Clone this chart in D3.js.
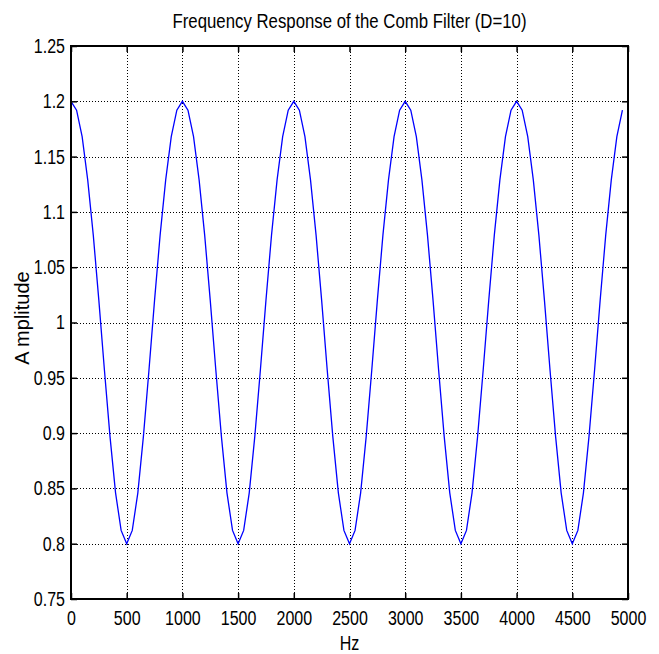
<!DOCTYPE html>
<html>
<head>
<meta charset="utf-8">
<script src="https://cdn.jsdelivr.net/npm/d3@7"></script>
<style>
  body { margin: 0; background: #fff; }
  text { font-family: "Liberation Sans", Arial, sans-serif; fill: #000; }
</style>
</head>
<body>
<div id="target"></div>
<script>
var WIDTH = 659, HEIGHT = 654;
var margin = {left: 71, top: 46, right: 31, bottom: 55};

// frequency samples (Hz), every 50 Hz
var freqs = [
  0, 50, 100, 150, 200, 250, 300, 350, 400, 450,
  500, 550, 600, 650, 700, 750, 800, 850, 900, 950,
  1000, 1050, 1100, 1150, 1200, 1250, 1300, 1350, 1400, 1450,
  1500, 1550, 1600, 1650, 1700, 1750, 1800, 1850, 1900, 1950,
  2000, 2050, 2100, 2150, 2200, 2250, 2300, 2350, 2400, 2450,
  2500, 2550, 2600, 2650, 2700, 2750, 2800, 2850, 2900, 2950,
  3000, 3050, 3100, 3150, 3200, 3250, 3300, 3350, 3400, 3450,
  3500, 3550, 3600, 3650, 3700, 3750, 3800, 3850, 3900, 3950,
  4000, 4050, 4100, 4150, 4200, 4250, 4300, 4350, 4400, 4450,
  4500, 4550, 4600, 4650, 4700, 4750, 4800, 4850, 4900, 4950
];

// amplitude
var amps = [
  1.200, 1.192, 1.168, 1.129, 1.079, 1.020, 0.957, 0.897, 0.846, 0.812,
  0.800, 0.812, 0.846, 0.897, 0.957, 1.020, 1.079, 1.129, 1.168, 1.192,
  1.200, 1.192, 1.168, 1.129, 1.079, 1.020, 0.957, 0.897, 0.846, 0.812,
  0.800, 0.812, 0.846, 0.897, 0.957, 1.020, 1.079, 1.129, 1.168, 1.192,
  1.200, 1.192, 1.168, 1.129, 1.079, 1.020, 0.957, 0.897, 0.846, 0.812,
  0.800, 0.812, 0.846, 0.897, 0.957, 1.020, 1.079, 1.129, 1.168, 1.192,
  1.200, 1.192, 1.168, 1.129, 1.079, 1.020, 0.957, 0.897, 0.846, 0.812,
  0.800, 0.812, 0.846, 0.897, 0.957, 1.020, 1.079, 1.129, 1.168, 1.192,
  1.200, 1.192, 1.168, 1.129, 1.079, 1.020, 0.957, 0.897, 0.846, 0.812,
  0.800, 0.812, 0.846, 0.897, 0.957, 1.020, 1.079, 1.129, 1.168, 1.192
];

var xTicks = [0, 500, 1000, 1500, 2000, 2500, 3000, 3500, 4000, 4500, 5000];
var yTicks = [0.75, 0.8, 0.85, 0.9, 0.95, 1, 1.05, 1.1, 1.15, 1.2, 1.25];

var titleText = "Frequency Response of the Comb Filter (D=10)";
var xLabel = "Hz";
var yLabel = "A mplitude";

var w = WIDTH - margin.left - margin.right;
var h = HEIGHT - margin.top - margin.bottom;

var svg = d3.select("#target").append("svg").attr("width", WIDTH).attr("height", HEIGHT);
var g = svg.append("g").attr("transform", "translate(" + margin.left + "," + margin.top + ")");

var x = d3.scaleLinear().domain([0, 5000]).range([0, w]);
var y = d3.scaleLinear().domain([0.75, 1.25]).range([h, 0]);

var SX = 0.8; // squeeze glyphs horizontally like the original renderer

// grid
g.selectAll(".vgrid").data(xTicks.slice(1, -1)).enter().append("line")
  .attr("x1", function(d) { return Math.round(x(d)) + 0.5; })
  .attr("x2", function(d) { return Math.round(x(d)) + 0.5; })
  .attr("y1", 0).attr("y2", h)
  .attr("stroke", "#000").attr("stroke-width", 1).attr("stroke-dasharray", "1,2");
g.selectAll(".hgrid").data(yTicks.slice(1, -1)).enter().append("line")
  .attr("y1", function(d) { return Math.round(y(d)) + 0.5; })
  .attr("y2", function(d) { return Math.round(y(d)) + 0.5; })
  .attr("x1", 0).attr("x2", w)
  .attr("stroke", "#000").attr("stroke-width", 1).attr("stroke-dasharray", "1,2");

// curve
var lineFunction = d3.line()
  .x(function(d, i) { return x(freqs[i]); })
  .y(function(d) { return y(d); });

g.append("path")
  .attr("d", lineFunction(amps))
  .attr("stroke", "#0000ff")
  .attr("stroke-width", 1.3)
  .attr("fill", "none");

// axes (ticks inward on all four sides)
function styleAxis(sel) {
  sel.select(".domain").remove();
  sel.selectAll(".tick line").attr("stroke", "#000").attr("stroke-width", 1.5);
}

var axBottom = g.append("g").attr("transform", "translate(0," + h + ")")
  .call(d3.axisBottom(x).tickValues(xTicks).tickSizeInner(-6).tickSizeOuter(0).tickPadding(12).tickFormat(d3.format("d")));
styleAxis(axBottom);
axBottom.selectAll(".tick text")
  .attr("font-size", 20)
  .attr("transform", "scale(" + SX + ",1)");

var axTop = g.append("g")
  .call(d3.axisTop(x).tickValues(xTicks).tickSizeInner(-6).tickSizeOuter(0).tickFormat(""));
styleAxis(axTop);

var axLeft = g.append("g")
  .call(d3.axisLeft(y).tickValues(yTicks).tickSizeInner(-6).tickSizeOuter(0).tickFormat(d3.format("")));
styleAxis(axLeft);
axLeft.selectAll(".tick text")
  .attr("font-size", 20)
  .attr("x", null)
  .attr("transform", "translate(-6,0) scale(" + SX + ",1)");

var axRight = g.append("g").attr("transform", "translate(" + w + ",0)")
  .call(d3.axisRight(y).tickValues(yTicks).tickSizeInner(-6).tickSizeOuter(0).tickFormat(""));
styleAxis(axRight);

// box
g.append("rect")
  .attr("x", 0).attr("y", 0).attr("width", w).attr("height", h)
  .attr("fill", "none").attr("stroke", "#000").attr("stroke-width", 2);

// labels
svg.append("text")
  .attr("transform", "translate(" + (margin.left + w / 2) + ",28) scale(0.84,1)")
  .attr("text-anchor", "middle")
  .attr("font-size", 20)
  .text(titleText);

svg.append("text")
  .attr("transform", "translate(" + (margin.left + w / 2) + ",650) scale(" + SX + ",1)")
  .attr("text-anchor", "middle")
  .attr("font-size", 20)
  .text(xLabel);

svg.append("text")
  .attr("transform", "translate(29,318) rotate(-90)")
  .attr("text-anchor", "middle")
  .attr("font-size", 20)
  .text(yLabel);
</script>
</body>
</html>
